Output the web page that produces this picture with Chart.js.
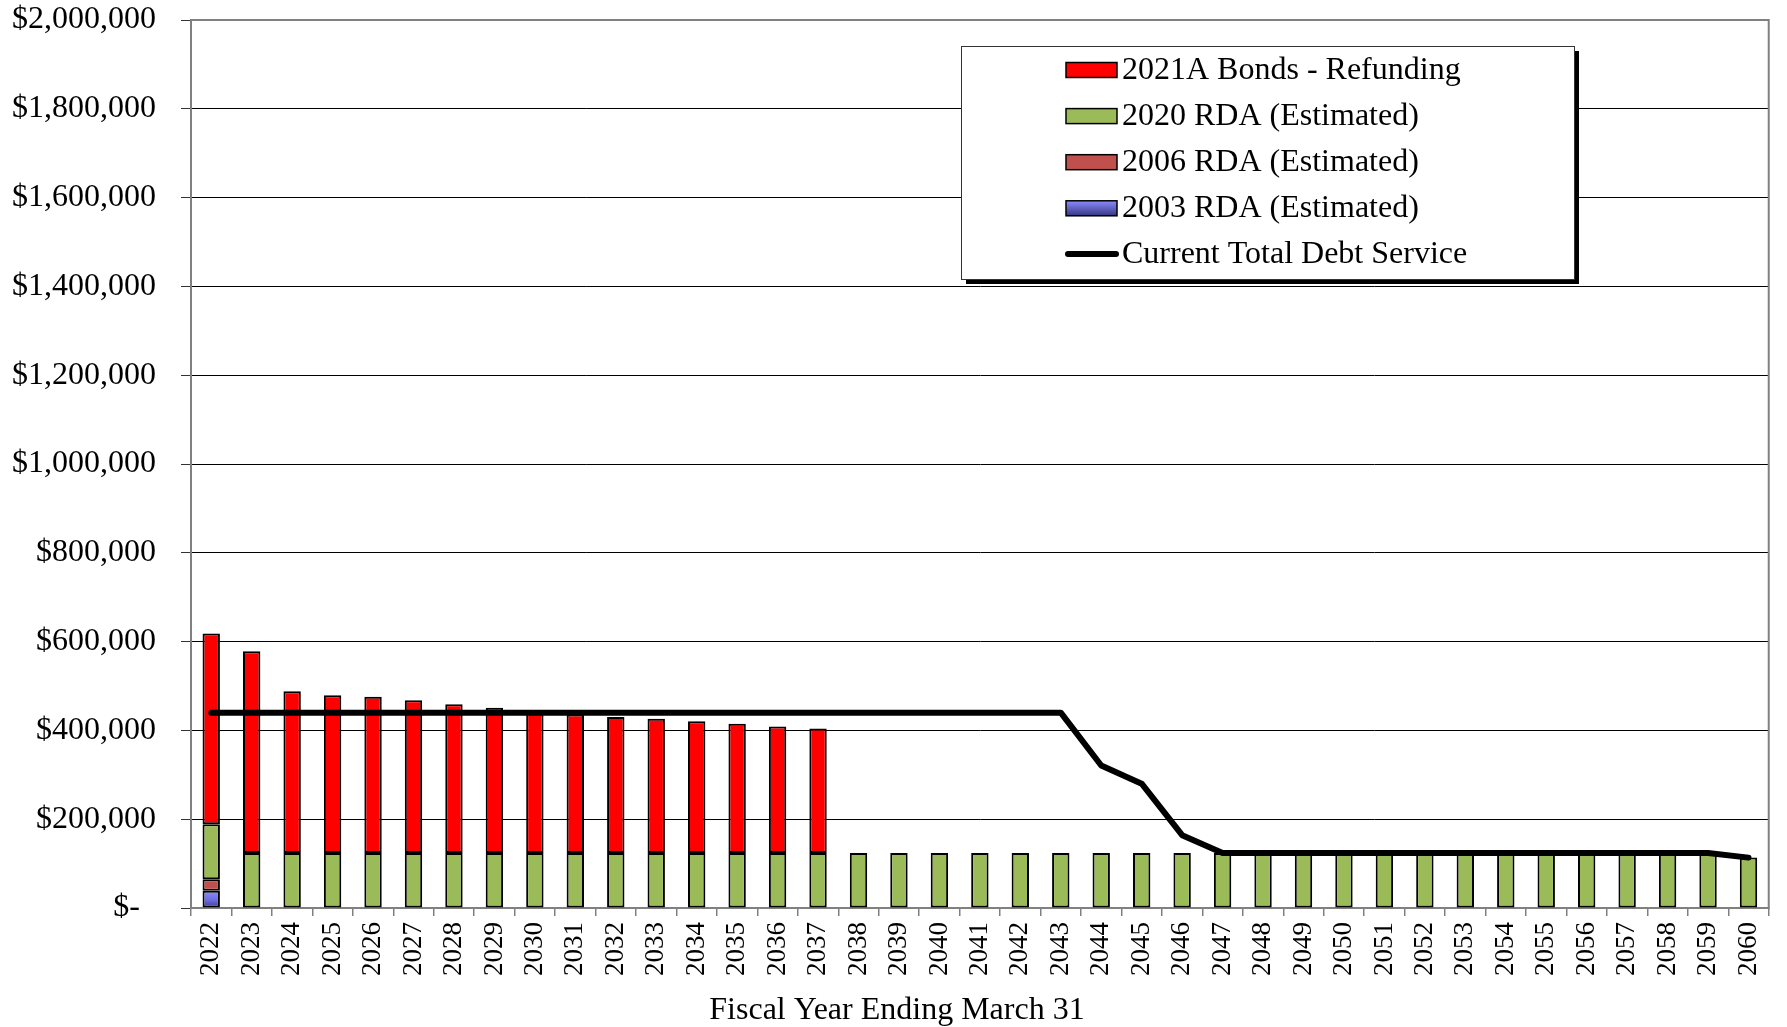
<!DOCTYPE html>
<html>
<head>
<meta charset="utf-8">
<script src="https://cdn.jsdelivr.net/npm/chart.js@4.4.1/dist/chart.umd.min.js"></script>
<style>
  body { margin: 0; background: #fff; }
  #wrap { width: 1787px; height: 1027px; }
</style>
</head>
<body>
<div id="wrap"><canvas id="debtChart" width="1787" height="1027"></canvas></div>
<script>
// fiscal years
let years = ['2022', '2023', '2024', '2025', '2026', '2027', '2028', '2029', '2030', '2031',
    '2032', '2033', '2034', '2035', '2036', '2037', '2038', '2039', '2040', '2041',
    '2042', '2043', '2044', '2045', '2046', '2047', '2048', '2049', '2050', '2051',
    '2052', '2053', '2054', '2055', '2056', '2057', '2058', '2059', '2060'];

// stacked bars (bottom to top: 2003, 2006, 2020, 2021A)
let rda2003 = [39000];
let rda2006 = [26000];
let rda2020 = [123500, 124000, 124000, 124000, 124000, 124000, 124000, 124000, 124000, 124000,
    124000, 124000, 124000, 124000, 124000, 124000, 124000, 124000, 124000, 124000,
    124000, 124000, 124000, 124000, 124000, 124000, 124000, 124000, 124000, 124000,
    124000, 124000, 124000, 124000, 124000, 124000, 124000, 124000, 113500];
let bonds2021A = [429500, 454000, 364000, 355000, 352000, 344000, 335000, 327000, 319000, 312000,
    306000, 302000, 296500, 291000, 285000, 280000];

// line
let totalDebt = [440000, 440000, 440000, 440000, 440000, 440000, 440000, 440000, 440000, 440000,
    440000, 440000, 440000, 440000, 440000, 440000, 440000, 440000, 440000, 440000,
    440000, 440000, 321000, 280000, 164000, 124000, 124000, 124000, 124000, 124000,
    124000, 124000, 124000, 124000, 124000, 124000, 124000, 124000, 113500];

let yMax = 2000000;
let yStep = 200000;
let xTitle = 'Fiscal Year Ending March 31';

const serif = '"Liberation Serif", "Times New Roman", serif';
Chart.defaults.font.family = serif;
Chart.defaults.color = '#000';

function blueFill(c) {
    let chart = c.chart;
    if (!chart.chartArea || c.raw == null) {
        return '#7070e0';
    }
    let y = chart.scales.y;
    let g = chart.ctx.createLinearGradient(0, y.getPixelForValue(c.raw), 0, y.getPixelForValue(0));
    g.addColorStop(0, '#8c8cff');
    g.addColorStop(0.5, '#7070e6');
    g.addColorStop(1, '#3c3c8c');
    return g;
}

// gray frame round the plot area
const plotFrame = {
    id: 'plotFrame',
    beforeDatasetsDraw(chart) {
        let a = chart.chartArea;
        let ctx = chart.ctx;
        ctx.save();
        ctx.strokeStyle = '#808080';
        ctx.lineWidth = 2;
        ctx.strokeRect(a.left, a.top, a.right - a.left, a.bottom - a.top);
        ctx.restore();
    }
};

// axis title sits a bit left of centre in the original, so it is drawn here
const axisTitle = {
    id: 'axisTitle',
    afterDraw(chart) {
        let ctx = chart.ctx;
        ctx.save();
        ctx.font = '32px ' + serif;
        ctx.fillStyle = '#000';
        ctx.textAlign = 'center';
        ctx.textBaseline = 'alphabetic';
        ctx.fillText(xTitle, 897, 1019);
        ctx.restore();
    }
};

// boxed legend with a drop shadow, as in the Excel original
const legendBox = {
    id: 'legendBox',
    afterDraw(chart) {
        let ctx = chart.ctx;
        let x = 961, y = 46, w = 613, h = 233;
        ctx.save();
        ctx.fillStyle = '#000';
        ctx.fillRect(x + 5, y + 5, w, h);
        ctx.fillStyle = '#fff';
        ctx.fillRect(x, y, w, h);
        ctx.strokeStyle = '#333';
        ctx.lineWidth = 1;
        ctx.strokeRect(x + 0.5, y + 0.5, w, h);

        let ds = chart.data.datasets;
        let items = [ds[3], ds[2], ds[1], ds[0], ds[4]];
        ctx.font = '32px ' + serif;
        ctx.textBaseline = 'middle';
        items.forEach((d, i) => {
            let cy = 69.5 + i * 46.1;
            if (d.type === 'line') {
                ctx.strokeStyle = '#000';
                ctx.lineWidth = 6;
                ctx.lineCap = 'round';
                ctx.beginPath();
                ctx.moveTo(1068, cy);
                ctx.lineTo(1116, cy);
                ctx.stroke();
            } else {
                let fill = d.backgroundColor;
                if (d.legendGradient) {
                    fill = ctx.createLinearGradient(0, cy - 7, 0, cy + 7);
                    fill.addColorStop(0, '#8c8cff');
                    fill.addColorStop(1, '#3c3c8c');
                }
                ctx.fillStyle = fill;
                ctx.fillRect(1066, cy - 7, 51, 15);
                ctx.strokeStyle = '#000';
                ctx.lineWidth = 1.5;
                ctx.strokeRect(1066, cy - 7, 51, 15);
            }
            ctx.fillStyle = '#000';
            ctx.fillText(d.label, 1122, cy + 1);
        });
        ctx.restore();
    }
};

let barCommon = {
    borderColor: '#000',
    borderWidth: 2,
    borderSkipped: false,
    barPercentage: 0.43,
    categoryPercentage: 1.0,
    stack: 'bars',
    order: 1
};

let chart = new Chart(document.getElementById('debtChart'), {
    type: 'bar',
    data: {
        labels: years,
        datasets: [
            Object.assign({ label: '2003 RDA (Estimated)', data: rda2003, backgroundColor: blueFill, legendGradient: true }, barCommon),
            Object.assign({ label: '2006 RDA (Estimated)', data: rda2006, backgroundColor: '#C0504D' }, barCommon),
            Object.assign({ label: '2020 RDA (Estimated)', data: rda2020, backgroundColor: '#9BBB59' }, barCommon),
            Object.assign({ label: '2021A Bonds - Refunding', data: bonds2021A, backgroundColor: '#FF0000' }, barCommon),
            {
                type: 'line',
                label: 'Current Total Debt Service',
                data: totalDebt,
                borderColor: '#000',
                borderWidth: 6,
                borderCapStyle: 'round',
                borderJoinStyle: 'round',
                pointRadius: 0,
                tension: 0,
                fill: false,
                stack: 'line',
                order: 0
            }
        ]
    },
    options: {
        responsive: false,
        animation: false,
        layout: { padding: { left: 0, top: 20, right: 8, bottom: 0 } },
        plugins: {
            legend: { display: false },
            tooltip: { enabled: false }
        },
        scales: {
            x: {
                stacked: true,
                grid: {
                    display: true,
                    drawOnChartArea: false,
                    drawTicks: true,
                    tickLength: 8,
                    color: '#808080',
                    lineWidth: 1.5,
                    offset: true
                },
                border: { display: true, color: '#808080', width: 2 },
                ticks: {
                    minRotation: 90,
                    maxRotation: 90,
                    autoSkip: false,
                    padding: 6,
                    font: { size: 27 },
                    color: '#000'
                },
                afterFit: (s) => { s.height = 119; }
            },
            y: {
                stacked: true,
                min: 0,
                max: yMax,
                grid: {
                    color: (c) => (c.tick && c.tick.value === yMax) ? '#808080' : '#000',
                    lineWidth: 1,
                    drawTicks: true,
                    tickLength: 10,
                    tickColor: '#333'
                },
                border: { display: true, color: '#808080', width: 2 },
                ticks: {
                    stepSize: yStep,
                    padding: 25,
                    font: { size: 32 },
                    color: '#000',
                    callback: (v) => v === 0 ? '$-  ' : '$' + v.toLocaleString('en-US')
                },
                afterFit: (s) => {
                    s.width = 191;
                    s.paddingTop = 0;
                    s.paddingBottom = 0;
                }
            }
        }
    },
    plugins: [plotFrame, axisTitle, legendBox]
});
</script>
</body>
</html>
